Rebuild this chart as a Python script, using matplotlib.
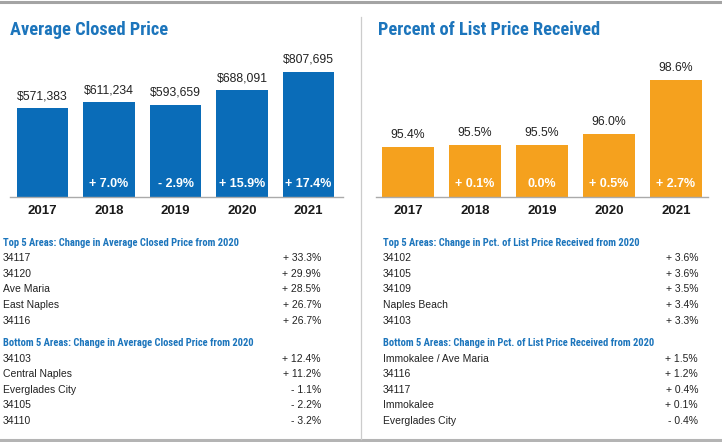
import matplotlib
matplotlib.use("Agg")
import matplotlib.pyplot as plt
from matplotlib import font_manager as fm
from matplotlib.lines import Line2D

years = ["2017", "2018", "2019", "2020", "2021"]
avg_price = [571383, 611234, 593659, 688091, 807695]
avg_price_labels = ["$571,383", "$611,234", "$593,659", "$688,091", "$807,695"]
avg_change = ["", "+ 7.0%", "- 2.9%", "+ 15.9%", "+ 17.4%"]

pct_list = [95.4, 95.5, 95.5, 96.0, 98.6]
pct_labels = ["95.4%", "95.5%", "95.5%", "96.0%", "98.6%"]
pct_change = ["", "+ 0.1%", "0.0%", "+ 0.5%", "+ 2.7%"]

top_price_areas = ["34117", "34120", "Ave Maria", "East Naples", "34116"]
top_price_vals = ["+ 33.3%", "+ 29.9%", "+ 28.5%", "+ 26.7%", "+ 26.7%"]
bot_price_areas = ["34103", "Central Naples", "Everglades City", "34105", "34110"]
bot_price_vals = ["+ 12.4%", "+ 11.2%", "- 1.1%", "- 2.2%", "- 3.2%"]

top_pct_areas = ["34102", "34105", "34109", "Naples Beach", "34103"]
top_pct_vals = ["+ 3.6%", "+ 3.6%", "+ 3.5%", "+ 3.4%", "+ 3.3%"]
bot_pct_areas = ["Immokalee / Ave Maria", "34116", "34117", "Immokalee", "Everglades City"]
bot_pct_vals = ["+ 1.5%", "+ 1.2%", "+ 0.4%", "+ 0.1%", "- 0.4%"]

names = {f.name for f in fm.fontManager.ttflist}
body = "Liberation Sans" if "Liberation Sans" in names else "DejaVu Sans"
cond = None
for cand in ["Roboto Condensed", "Liberation Sans Narrow", "Open Sans Condensed"]:
    if cand in names:
        cond = cand
        break
if cond is None:
    cond = "Roboto" if "Roboto" in names else body
    title_fs, head_fs = 12.3, 6.7
else:
    title_fs, head_fs = 13.2, 7.55
plt.rcParams["font.family"] = [body, "DejaVu Sans"]

BLUE = "#0A6CB8"
TITLE_BLUE = "#1C75BC"
ORANGE = "#F5A11E"
W, H = 722, 442

fig = plt.figure(figsize=(W / 100, H / 100), dpi=100)
fig.patch.set_facecolor("white")

def fx(px):
    return px / W

def fy(py):
    return 1 - py / H

# frame lines
fig.add_artist(Line2D([0, fx(720)], [fy(1.5), fy(1.5)], color="#a4a4a4", lw=2.2))
fig.add_artist(Line2D([0, 1], [fy(440), fy(440)], color="#b4b4b4", lw=2.2))
fig.add_artist(Line2D([fx(360.5), fx(360.5)], [fy(17), fy(439)], color="#cccccc", lw=0.9))

def bar_panel(left_px, right_px, xl, yl, vals, labels, changes, color, title, title_x):
    ax = fig.add_axes([fx(left_px), fy(197), fx(right_px - left_px), (197 - 42) / H])
    ax.bar(range(len(vals)), [v - yl[0] for v in vals], bottom=yl[0], width=0.77, color=color)
    ax.set_xlim(*xl)
    ax.set_ylim(*yl)
    for s in ["top", "right", "left"]:
        ax.spines[s].set_visible(False)
    ax.spines["bottom"].set_color("#aaaaaa")
    ax.spines["bottom"].set_linewidth(1.0)
    ax.set_yticks([])
    ax.set_xticks(range(len(vals)))
    ax.set_xticklabels(years, fontsize=9.5, fontweight="bold", color="#1a1a1a")
    ax.tick_params(axis="x", length=0, pad=5.5)
    for i, (v, lab, ch) in enumerate(zip(vals, labels, changes)):
        ax.annotate(lab, (i, v), xytext=(0, 4.5), textcoords="offset points",
                    ha="center", va="bottom", fontsize=8.8, color="#222222")
        if ch:
            ax.annotate(ch, (i, yl[0]), xytext=(0, 9.5), textcoords="offset points",
                        ha="center", va="center", fontsize=9, fontweight="bold", color="white")
    fig.text(fx(title_x), fy(30), title, fontsize=title_fs, fontweight="bold",
             color=TITLE_BLUE, family=[cond, "DejaVu Sans"], va="center", ha="left")
    return ax

bar_panel(10, 343, (-0.49, 4.52), (0, 1.0e6), avg_price, avg_price_labels, avg_change,
          BLUE, "Average Closed Price", 10)
bar_panel(376, 708, (-0.48, 4.48), (93.0, 100.42), pct_list, pct_labels, pct_change,
          ORANGE, "Percent of List Price Received", 378)

def table(x_left, x_right, header_y, header, areas, vals):
    fig.text(fx(x_left), fy(header_y), header, fontsize=head_fs, fontweight="bold",
             color=TITLE_BLUE, family=[cond, "DejaVu Sans"], va="center", ha="left")
    for k, (a, v) in enumerate(zip(areas, vals)):
        y = header_y + 15.6 * (k + 1)
        fig.text(fx(x_left), fy(y), a, fontsize=7.5, color="#222222", va="center", ha="left")
        fig.text(fx(x_right), fy(y), v, fontsize=7.5, color="#222222", va="center", ha="right")

table(3, 321, 242.5, "Top 5 Areas: Change in Average Closed Price from 2020",
      top_price_areas, top_price_vals)
table(3, 321, 343, "Bottom 5 Areas: Change in Average Closed Price from 2020",
      bot_price_areas, bot_price_vals)
table(383, 698, 242.5, "Top 5 Areas: Change in Pct. of List Price Received from 2020",
      top_pct_areas, top_pct_vals)
table(383, 698, 343, "Bottom 5 Areas: Change in Pct. of List Price Received from 2020",
      bot_pct_areas, bot_pct_vals)

fig.savefig("out.png", dpi=100, facecolor="white")
